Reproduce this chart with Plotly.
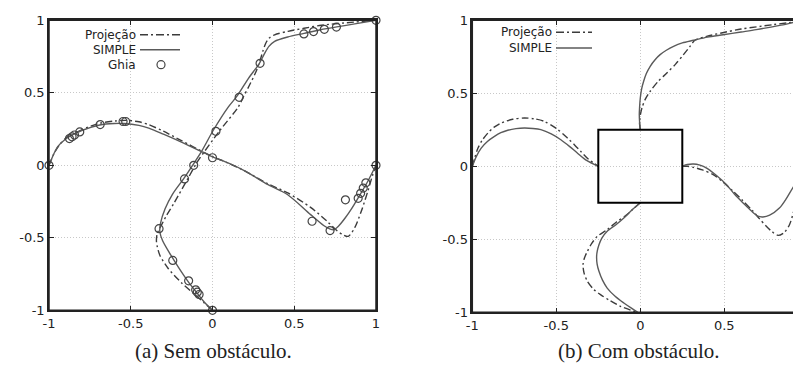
import plotly.graph_objects as go

# ---------------- (a) Sem obstáculo ----------------
# Ghia et al. reference points (u along vertical centre line, v along horizontal centre line)
ghia_u = [0, -0.082, -0.093, -0.103, -0.146, -0.243, -0.327, -0.171, -0.115, 0.021, 0.163, 0.291, 0.559, 0.618, 0.684, 0.758, 1]
ghia_uy = [-1, -0.891, -0.875, -0.859, -0.797, -0.656, -0.437, -0.094, 0, 0.234, 0.469, 0.703, 0.906, 0.922, 0.938, 0.953, 1]
ghia_vx = [-1, -0.875, -0.859, -0.844, -0.812, -0.687, -0.547, -0.531, 0, 0.609, 0.719, 0.813, 0.891, 0.906, 0.922, 0.938, 1]
ghia_v = [0, 0.184, 0.197, 0.209, 0.230, 0.281, 0.302, 0.302, 0.052, -0.386, -0.450, -0.238, -0.228, -0.193, -0.157, -0.121, 0]

# SIMPLE (a): u(y)
a_simple_uy = [-1, -0.95, -0.89, -0.8, -0.7, -0.6, -0.52, -0.46, -0.40, -0.3, -0.2, -0.09, 0.0, 0.1, 0.24, 0.4, 0.48, 0.6, 0.7, 0.77, 0.82, 0.855, 0.885, 0.91, 0.935, 0.955, 0.975, 1.0]
a_simple_u = [0, -0.045, -0.088, -0.15, -0.21, -0.265, -0.305, -0.322, -0.318, -0.29, -0.245, -0.175, -0.122, -0.065, 0.004, 0.095, 0.152, 0.22, 0.285, 0.318, 0.345, 0.38, 0.46, 0.56, 0.66, 0.76, 0.87, 1.0]
# Projeção (a): u(y)
a_proj_uy = [-1, -0.9, -0.81, -0.71, -0.62, -0.56, -0.52, -0.47, -0.44, -0.35, -0.26, -0.09, 0.03, 0.24, 0.4, 0.47, 0.55, 0.65, 0.72, 0.79, 0.84, 0.875, 0.9, 0.924, 0.945, 0.966, 0.988, 1]
a_proj_u = [0, -0.10, -0.19, -0.272, -0.322, -0.338, -0.343, -0.338, -0.325, -0.283, -0.235, -0.15, -0.089, 0.045, 0.156, 0.188, 0.225, 0.268, 0.29, 0.309, 0.325, 0.345, 0.38, 0.462, 0.56, 0.666, 0.87, 1.0]
# SIMPLE (a): v(x)
a_simple_vx = [-1, -0.97, -0.945, -0.9, -0.874, -0.8, -0.69, -0.6, -0.54, -0.45, -0.39, -0.3, -0.19, -0.05, 0.0, 0.095, 0.2, 0.34, 0.46, 0.6, 0.68, 0.72, 0.74, 0.77, 0.81, 0.85, 0.89, 0.95, 1.0]
a_simple_v = [0, 0.08, 0.131, 0.18, 0.2, 0.24, 0.278, 0.288, 0.288, 0.275, 0.257, 0.215, 0.16, 0.085, 0.058, 0.016, -0.04, -0.134, -0.203, -0.34, -0.415, -0.44, -0.445, -0.42, -0.365, -0.3, -0.226, -0.11, 0]
# Projeção (a): v(x)
a_proj_vx = [-1, -0.97, -0.94, -0.9, -0.87, -0.8, -0.69, -0.6, -0.53, -0.45, -0.39, -0.3, -0.19, -0.05, 0.0, 0.095, 0.2, 0.34, 0.46, 0.6, 0.7, 0.76, 0.8, 0.83, 0.87, 0.91, 0.95, 0.98, 1]
a_proj_v = [0, 0.08, 0.135, 0.185, 0.205, 0.245, 0.29, 0.305, 0.31, 0.3, 0.28, 0.235, 0.17, 0.088, 0.06, 0.016, -0.04, -0.128, -0.19, -0.29, -0.385, -0.45, -0.48, -0.49, -0.43, -0.317, -0.179, -0.065, 0]

# ---------------- (b) Com obstáculo ----------------
obstacle = [-0.25, 0.25]
b_simple_up_y = [0.25, 0.3, 0.353, 0.41, 0.468, 0.53, 0.582, 0.635, 0.685, 0.73, 0.765, 0.795, 0.822, 0.845, 0.863, 0.885, 0.901, 0.92, 0.936, 0.965, 0.993, 1]
b_simple_up_u = [0, -0.004, -0.006, -0.004, 0.0, 0.008, 0.02, 0.036, 0.059, 0.088, 0.118, 0.155, 0.198, 0.25, 0.316, 0.4, 0.493, 0.6, 0.69, 0.83, 0.947, 1]
b_proj_up_y = [0.25, 0.3, 0.35, 0.4, 0.46, 0.514, 0.58, 0.639, 0.70, 0.765, 0.82, 0.863, 0.89, 0.915, 0.94, 0.97, 1]
b_proj_up_u = [0, -0.005, 0.0, 0.01, 0.03, 0.059, 0.105, 0.158, 0.21, 0.257, 0.295, 0.325, 0.395, 0.49, 0.6, 0.79, 1]
b_simple_lo_y = [-0.25, -0.3, -0.354, -0.4, -0.445, -0.49, -0.537, -0.58, -0.616, -0.67, -0.719, -0.78, -0.834, -0.89, -0.936, -0.97, -1]
b_simple_lo_u = [0, -0.05, -0.098, -0.145, -0.197, -0.228, -0.246, -0.256, -0.26, -0.257, -0.246, -0.225, -0.197, -0.15, -0.098, -0.055, -0.015]
b_proj_lo_y = [-0.25, -0.29, -0.331, -0.38, -0.434, -0.48, -0.53, -0.582, -0.63, -0.674, -0.73, -0.788, -0.84, -0.879, -0.92, -0.959, -1]
b_proj_lo_u = [0, -0.04, -0.079, -0.14, -0.197, -0.256, -0.29, -0.315, -0.333, -0.341, -0.335, -0.315, -0.28, -0.237, -0.18, -0.118, -0.02]
b_simple_le_x = [-1, -0.975, -0.947, -0.91, -0.868, -0.83, -0.789, -0.74, -0.69, -0.64, -0.592, -0.53, -0.473, -0.42, -0.375, -0.32, -0.25]
b_simple_le_v = [0, 0.07, 0.125, 0.17, 0.205, 0.23, 0.247, 0.258, 0.262, 0.259, 0.251, 0.222, 0.182, 0.135, 0.091, 0.04, 0.0]
b_proj_le_x = [-1, -0.985, -0.966, -0.94, -0.907, -0.87, -0.828, -0.76, -0.69, -0.63, -0.572, -0.5, -0.434, -0.39, -0.355, -0.31, -0.25]
b_proj_le_v = [0, 0.06, 0.125, 0.18, 0.228, 0.268, 0.297, 0.322, 0.331, 0.325, 0.308, 0.26, 0.194, 0.145, 0.103, 0.05, 0.0]
b_simple_ri_x = [0.25, 0.28, 0.316, 0.355, 0.395, 0.45, 0.513, 0.56, 0.612, 0.66, 0.7, 0.73, 0.77, 0.828, 0.87, 0.907, 0.95, 0.986, 1]
b_simple_ri_v = [0, 0.012, 0.016, 0.008, -0.012, -0.06, -0.126, -0.19, -0.251, -0.305, -0.342, -0.347, -0.335, -0.286, -0.22, -0.149, -0.075, -0.012, 0]
b_proj_ri_x = [0.25, 0.28, 0.316, 0.37, 0.434, 0.49, 0.553, 0.61, 0.671, 0.71, 0.75, 0.785, 0.819, 0.855, 0.888, 0.915, 0.937, 0.96, 0.986, 1]
b_proj_ri_v = [0, 0.0, -0.007, -0.025, -0.057, -0.105, -0.171, -0.235, -0.308, -0.36, -0.411, -0.448, -0.473, -0.455, -0.4, -0.3, -0.194, -0.11, -0.023, 0]

tick_vals = [-1, -0.5, 0, 0.5, 1]
tick_text = ["-1", "-0.5", "0", "0.5", "1"]
legend_a = ["Projeção", "SIMPLE", "Ghia"]
legend_b = ["Projeção", "SIMPLE"]
captions = ["(a) Sem obstáculo.", "(b) Com obstáculo."]

W, H = 801, 376
SOLID_C = "#5a5a5a"
PROJ_C = "#3c3c3c"
PROJ_DASH = "7px,3px,2px,3px"
FRAME_C = "#222222"

fig = go.Figure()

def curve(x, y, xa, ya, proj):
    fig.add_trace(go.Scatter(
        x=x, y=y, xaxis=xa, yaxis=ya, mode="lines", showlegend=False,
        line=dict(color=PROJ_C if proj else SOLID_C, width=1.4,
                  dash=PROJ_DASH if proj else "solid", shape="spline", smoothing=0.8),
        hoverinfo="skip"))

# (a)
curve(a_proj_u, a_proj_uy, "x", "y", True)
curve(a_proj_vx, a_proj_v, "x", "y", True)
curve(a_simple_u, a_simple_uy, "x", "y", False)
curve(a_simple_vx, a_simple_v, "x", "y", False)
fig.add_trace(go.Scatter(x=ghia_u + ghia_vx, y=ghia_uy + ghia_v, xaxis="x", yaxis="y",
                         mode="markers", showlegend=False, cliponaxis=False,
                         marker=dict(symbol="circle-open", size=8, color="#444",
                                     line=dict(width=1.2, color="#444"))))
# (b)
curve(b_proj_up_u, b_proj_up_y, "x2", "y2", True)
curve(b_proj_lo_u, b_proj_lo_y, "x2", "y2", True)
curve(b_proj_le_x, b_proj_le_v, "x2", "y2", True)
curve(b_proj_ri_x, b_proj_ri_v, "x2", "y2", True)
curve(b_simple_up_u, b_simple_up_y, "x2", "y2", False)
curve(b_simple_lo_u, b_simple_lo_y, "x2", "y2", False)
curve(b_simple_le_x, b_simple_le_v, "x2", "y2", False)
curve(b_simple_ri_x, b_simple_ri_v, "x2", "y2", False)

axis_common = dict(
    range=[-1, 1], tickvals=tick_vals, ticktext=tick_text, automargin=False,
    showgrid=True, gridcolor="#c8c8c8", griddash="1px,2px", gridwidth=1,
    zeroline=False, showline=True, linecolor=FRAME_C, linewidth=1.5,
    mirror="ticks", ticks="inside", ticklen=5, tickcolor=FRAME_C, tickwidth=1,
    tickfont=dict(family="DejaVu Sans", size=13, color="#222"),
    fixedrange=True,
)

fig.update_layout(
    width=W, height=H,
    margin=dict(l=0, r=0, t=0, b=0, autoexpand=False),
    paper_bgcolor="white", plot_bgcolor="white",
    showlegend=False,
    xaxis=dict(domain=[41 / W, 368 / W], anchor="y", **axis_common),
    yaxis=dict(domain=[1 - 302.3 / H, 1 - 12.3 / H], anchor="x", **axis_common),
    xaxis2=dict(domain=[464.3 / W, 800.3 / W], anchor="y2", **axis_common),
    yaxis2=dict(domain=[1 - 304.3 / H, 1 - 12.3 / H], anchor="x2", **axis_common),
)
fig.update_layout(xaxis2=dict(tickvals=tick_vals[:-1], ticktext=tick_text[:-1]))

# explicit plot frames
for xr, yr in (("x domain", "y domain"), ("x2 domain", "y2 domain")):
    fig.add_shape(type="rect", xref=xr, yref=yr, x0=0, x1=1, y0=0, y1=1,
                  line=dict(color=FRAME_C, width=1.5), fillcolor="rgba(0,0,0,0)", layer="above")

# obstacle
fig.add_shape(type="rect", xref="x2", yref="y2", x0=obstacle[0], x1=obstacle[1],
              y0=obstacle[0], y1=obstacle[1], line=dict(color="black", width=2),
              fillcolor="rgba(0,0,0,0)")

# manual gnuplot-style legends (text right-aligned, sample on the right)
def px(x):
    return x / W

def py(y):
    return 1 - y / H

legend_font = dict(family="DejaVu Sans", size=12, color="#222")
rows_a = [26.7, 41.7, 56.7]
for i, name in enumerate(legend_a):
    fig.add_annotation(xref="paper", yref="paper", x=px(129), y=py(rows_a[i]), text=name,
                       showarrow=False, xanchor="right", yanchor="middle", font=legend_font,
                       borderpad=0)
fig.add_shape(type="line", xref="paper", yref="paper", x0=px(132), x1=px(172),
              y0=py(rows_a[0]), y1=py(rows_a[0]), line=dict(color=PROJ_C, width=1.4, dash="8px,3px,2px,3px"))
fig.add_shape(type="line", xref="paper", yref="paper", x0=px(132), x1=px(172),
              y0=py(rows_a[1]), y1=py(rows_a[1]), line=dict(color=SOLID_C, width=1.4))
fig.add_shape(type="circle", xref="paper", yref="paper", x0=px(149), x1=px(157),
              y0=py(rows_a[2] + 4), y1=py(rows_a[2] - 4), line=dict(color="#444", width=1.2))

rows_b = [24.3, 40]
for i, name in enumerate(legend_b):
    fig.add_annotation(xref="paper", yref="paper", x=px(545), y=py(rows_b[i]), text=name,
                       showarrow=False, xanchor="right", yanchor="middle", font=legend_font,
                       borderpad=0)
fig.add_shape(type="line", xref="paper", yref="paper", x0=px(548), x1=px(584),
              y0=py(rows_b[0]), y1=py(rows_b[0]), line=dict(color=PROJ_C, width=1.4, dash="8px,3px,2px,3px"))
fig.add_shape(type="line", xref="paper", yref="paper", x0=px(548), x1=px(584),
              y0=py(rows_b[1]), y1=py(rows_b[1]), line=dict(color=SOLID_C, width=1.4))

# captions
cap_font = dict(family="Liberation Serif", size=21, color="#222")
fig.add_annotation(xref="paper", yref="paper", x=px(205), y=py(343), text=captions[0],
                   showarrow=False, xanchor="center", yanchor="middle", font=cap_font)
fig.add_annotation(xref="paper", yref="paper", x=px(631), y=py(343), text=captions[1],
                   showarrow=False, xanchor="center", yanchor="middle", font=cap_font)

fig.write_html("out.html")
